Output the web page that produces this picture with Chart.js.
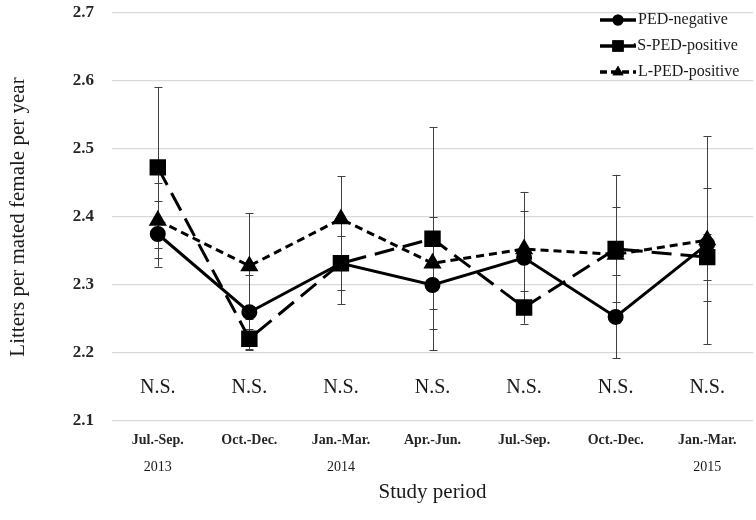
<!DOCTYPE html>
<html>
<head>
<meta charset="utf-8">
<script src="https://cdn.jsdelivr.net/npm/chart.js@4/dist/chart.umd.min.js"></script>
<style>
  html, body { margin:0; padding:0; background:#fff; }
  #wrap { width:756px; height:520px; position:relative; }
</style>
</head>
<body>
<div id="wrap"><canvas id="c"></canvas></div>
<script>
// periods & years
const periods = ['Jul.-Sep.', 'Oct.-Dec.', 'Jan.-Mar.', 'Apr.-Jun.', 'Jul.-Sep.', 'Oct.-Dec.', 'Jan.-Mar.'];
const years   = ['2013', '', '2014', '', '', '', '2015'];
const nsLabels = ['N.S.', 'N.S.', 'N.S.', 'N.S.', 'N.S.', 'N.S.', 'N.S.'];
const yTicks = [2.1, 2.2, 2.3, 2.4, 2.5, 2.6, 2.7];

// means
const pedNegative  = [2.375, 2.260, 2.332, 2.300, 2.340, 2.253, 2.360];
const sPedPositive = [2.473, 2.221, 2.332, 2.368, 2.267, 2.353, 2.341];
const lPedPositive = [2.395, 2.328, 2.397, 2.332, 2.353, 2.345, 2.366];

// error bar half widths
const pedNegativeErr  = [0.048, 0.055, 0.040, 0.065, 0.069, 0.061, 0.083];
const sPedPositiveErr = [0.118, 0.015, 0.060, 0.164, 0.024, 0.109, 0.034];
const lPedPositiveErr = [0.055, 0.078, 0.063, 0.068, 0.084, 0.070, 0.153];

const SERIF = '"Liberation Serif", "Times New Roman", serif';

// error bars, drawn under the lines
const errorBars = {
  id: 'errorBars',
  beforeDatasetsDraw(chart) {
    const {ctx, scales:{x, y}} = chart;
    ctx.save();
    ctx.strokeStyle = '#404040';
    ctx.lineWidth = 1;
    chart.data.datasets.forEach(ds => {
      ds.data.forEach((v, i) => {
        const e = ds.err[i];
        const px = Math.round(x.getPixelForValue(i)) + 0.5;
        const top = y.getPixelForValue(v + e), bot = y.getPixelForValue(v - e);
        ctx.beginPath();
        ctx.moveTo(px, top); ctx.lineTo(px, bot);
        ctx.moveTo(px - 4, Math.round(top) + 0.5); ctx.lineTo(px + 4, Math.round(top) + 0.5);
        ctx.moveTo(px - 4, Math.round(bot) + 0.5); ctx.lineTo(px + 4, Math.round(bot) + 0.5);
        ctx.stroke();
      });
    });
    ctx.restore();
  }
};

// N.S. text + legend inside the plot
const extras = {
  id: 'extras',
  afterDraw(chart) {
    const {ctx, scales:{x, y}} = chart;
    ctx.save();
    ctx.fillStyle = '#1a1a1a';
    ctx.font = '20px ' + SERIF;
    ctx.textAlign = 'center';
    ctx.textBaseline = 'middle';
    nsLabels.forEach((t, i) => ctx.fillText(t, x.getPixelForValue(i), y.getPixelForValue(2.149)));

    // legend
    const names = ['PED-negative', '\u00b7S-PED-positive', 'L-PED-positive'];
    const rows = [20, 46, 72];
    chart.data.datasets.forEach((ds, i) => {
      const yy = rows[i];
      ctx.strokeStyle = '#000';
      ctx.lineWidth = 3.5;
      ctx.setLineDash(i === 2 ? [7, 4] : []);
      ctx.beginPath(); ctx.moveTo(600, yy); ctx.lineTo(636, yy); ctx.stroke();
      ctx.setLineDash([]);
      Chart.helpers.drawPoint(ctx, {pointStyle: ds.pointStyle, radius: ds.pointRadius * 0.85, rotation: 0, borderWidth: 0}, 618, yy);
      ctx.fillStyle = '#000';
      ctx.fill();
      ctx.fillStyle = '#1a1a1a';
      ctx.font = '16px ' + SERIF;
      ctx.textAlign = 'left';
      ctx.fillText(names[i], i === 1 ? 632 : 638, yy);
    });
    ctx.restore();
  }
};

new Chart(document.getElementById('c'), {
  type: 'line',
  data: {
    labels: periods,
    datasets: [
      { label:'PED-negative', data:pedNegative, err:pedNegativeErr,
        borderColor:'#000', backgroundColor:'#000', borderWidth:3,
        pointStyle:'circle', pointRadius:6.5, pointHoverRadius:6.5, tension:0 },
      { label:'S-PED-positive', data:sPedPositive, err:sPedPositiveErr,
        borderColor:'#000', backgroundColor:'#000', borderWidth:3, borderDash:[20,9],
        pointStyle:'rect', pointRadius:9.5, pointHoverRadius:9.5, tension:0 },
      { label:'L-PED-positive', data:lPedPositive, err:lPedPositiveErr,
        borderColor:'#000', backgroundColor:'#000', borderWidth:3, borderDash:[8,5],
        pointStyle:'triangle', pointRadius:7.5, pointHoverRadius:7.5, tension:0 }
    ]
  },
  options: {
    responsive:true, maintainAspectRatio:false, animation:false,
    layout:{ autoPadding:false, padding:{ top:13, right:3, bottom:0, left:2 } },
    plugins:{ legend:{display:false}, tooltip:{enabled:false} },
    scales:{
      y:{
        min:2.1, max:2.7,
        afterBuildTicks: s => { s.ticks = yTicks.map(v => ({value:v})); },
        afterFit: s => { s.width = 110; s.paddingTop = 0; s.paddingBottom = 0; },
        grid:{ color:'#d9d9d9', lineWidth:1.3, drawTicks:false },
        border:{ display:false },
        ticks:{ padding:18, color:'#262626', font:{family:SERIF, size:17, weight:'bold'},
                callback: v => v.toFixed(1) },
        title:{ display:true, text:'Litters per mated female per year', color:'#1a1a1a',
                font:{family:SERIF, size:21}, padding:{top:4, bottom:6} }
      },
      x:{
        weight:0, offset:true,
        afterFit: s => { s.height = 30; },
        grid:{ display:false, drawTicks:false }, border:{ display:false },
        ticks:{ padding:11, color:'#262626', font:{family:SERIF, size:14, weight:'bold'}, maxRotation:0, autoSkip:false }
      },
      x2:{
        type:'category', labels:years, position:'bottom', weight:1, offset:true,
        afterFit: s => { s.height = 69; },
        grid:{ display:false, drawTicks:false }, border:{ display:false },
        ticks:{ padding:8, color:'#1a1a1a', font:{family:SERIF, size:14}, maxRotation:0, autoSkip:false },
        title:{ display:true, text:'Study period', color:'#1a1a1a', font:{family:SERIF, size:21}, padding:{top:4, bottom:15} }
      }
    }
  },
  plugins:[errorBars, extras]
});
</script>
</body>
</html>
